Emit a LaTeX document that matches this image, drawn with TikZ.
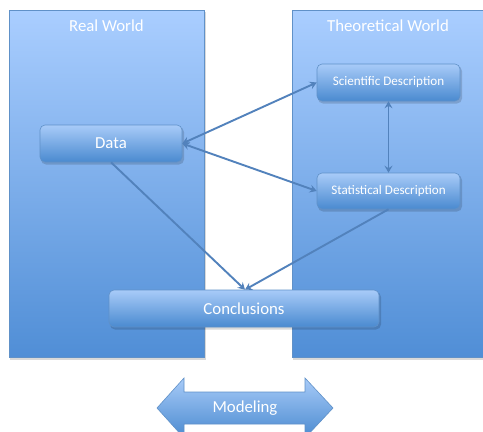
\documentclass[tikz,border=0pt]{standalone}
\usepackage{fontspec}
\setmainfont{Carlito}
\usetikzlibrary{arrows.meta}
\definecolor{pantop}{RGB}{170,206,255}
\definecolor{panbot}{RGB}{80,142,214}
\definecolor{boxtop}{RGB}{168,203,248}
\definecolor{boxbot}{RGB}{74,138,208}
\definecolor{edge}{RGB}{96,145,200}
\definecolor{link}{RGB}{82,130,188}
\tikzset{
  panel/.style={draw=edge, line width=0.6pt, top color=pantop, bottom color=panbot},
  pshadow/.style={fill=black, opacity=0.15},
  bx/.style={draw=edge, line width=0.6pt, rounded corners=5pt, top color=boxtop, bottom color=boxbot,
     text=white, font=\fontsize{16.8}{18}\selectfont, inner sep=0pt},
  bxshadow/.style={fill=black, opacity=0.15, rounded corners=5pt},
  ttl/.style={text=white, font=\fontsize{16.8}{18}\selectfont},
  tip/.style={Stealth[length=7pt,width=8pt,inset=2.5pt]},
  lnk/.style={draw=link, line width=1.9pt, -{Stealth[length=7pt,width=8pt,inset=2.5pt]}},
  dlnk/.style={draw=link, line width=1.9pt, {Stealth[length=7pt,width=8pt,inset=2.5pt]}-{Stealth[length=7pt,width=8pt,inset=2.5pt]}},
}
\begin{document}
\begin{tikzpicture}[x=1pt,y=-1pt]
\clip (0,0) rectangle (483,432);
\fill[white] (0,0) rectangle (483,432);
% panel shadows
\fill[pshadow] (9.5,12) rectangle (205.5,359.5);
\fill[pshadow] (292.5,12) rectangle (490,359.5);
% panels
\path[panel] (9,10) rectangle (204,357);
\path[panel] (292,10) rectangle (490,357);
\node[ttl] (rw) at (106.5,25.5) {Real World};
\node[ttl] (tw) at (388,25.5) {Theoretical World};
% box shadows
\fill[bxshadow] (41,127) rectangle (184,164.5);
\fill[bxshadow] (318,66) rectangle (462,103.5);
\fill[bxshadow] (318,175) rectangle (462,211.5);
\fill[bxshadow] (110,292) rectangle (381,329.5);
% boxes
\node[bx, minimum width=142pt, minimum height=37pt] (data) at (111,143.5) {Data};
\node[bx, minimum width=143pt, minimum height=37pt, font=\fontsize{13.1}{14}\selectfont] (sci) at (388.5,82.5) {Scientific Description};
\node[bx, minimum width=143pt, minimum height=36pt, font=\fontsize{13.1}{14}\selectfont] (stat) at (388.5,191) {Statistical Description};
\node[bx, minimum width=270pt, minimum height=37pt] (conc) at (244,308.5) {Conclusions};
% connectors
\draw[dlnk] (data.east) -- (sci.west);
\draw[dlnk] (data.east) -- (stat.west);
\draw[dlnk] (sci.south) -- (stat.north);
\coordinate (ctop) at ([xshift=1pt]conc.north);
\draw[lnk] (data.south) -- (ctop);
\draw[lnk] (stat.south) -- (ctop);
% modeling arrow
\path[draw=edge, line width=0.6pt, top color=boxtop, bottom color=boxbot]
  (157,408) -- (184,378) -- (184,392) -- (305,392) -- (305,378) -- (333,408)
  -- (305,438) -- (305,424) -- (184,424) -- (184,438) -- cycle;
\node[ttl] (model) at (245,408) {Modeling};
\end{tikzpicture}
\end{document}
